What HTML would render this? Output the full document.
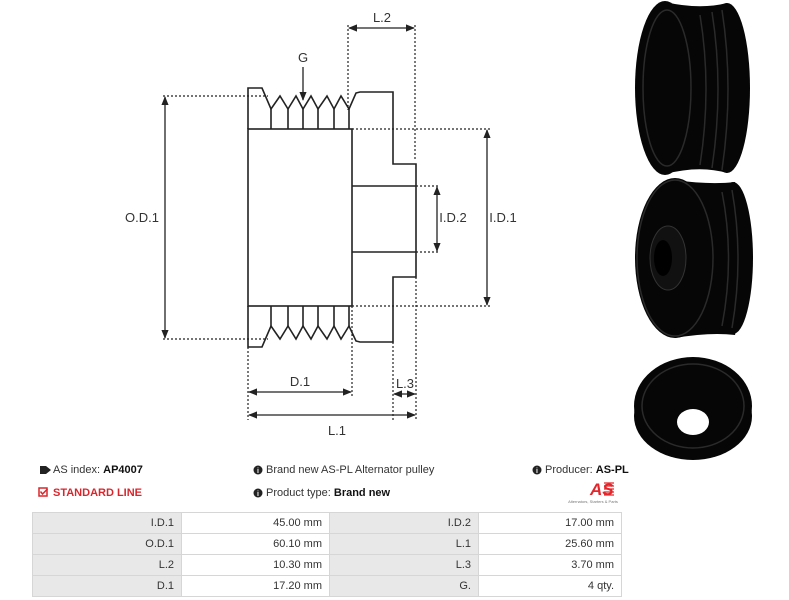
<!DOCTYPE html>
<html><head><meta charset="utf-8"><style>
body{margin:0;background:#fff;width:789px;height:600px;overflow:hidden;position:relative;font-family:"Liberation Sans",sans-serif;}
svg{position:absolute;left:0;top:0}
.t{position:absolute;font-size:11px;color:#333;white-space:nowrap}
table{position:absolute;left:32px;top:512px;border-collapse:collapse;font-size:11px;color:#333;table-layout:fixed;width:589px}
td{border:1px solid #d6d6d6;height:20px;padding:0 7px;text-align:right}
td.g{background:#e8e8e8}
td.w{background:#fff}
</style></head><body>
<svg width="789" height="600" viewBox="0 0 789 600">
<defs><marker id="a" viewBox="0 0 10 10" refX="9" refY="5" markerWidth="7" markerHeight="7" orient="auto-start-reverse"><path d="M0,1 L10,5 L0,9z" fill="#222"/></marker></defs>
<g fill="none" stroke="#222" stroke-width="1.6">
<rect x="248" y="129" width="104" height="177"/>
<path d="M248,129 V88 H262 L271,109 L280,96 L288,109 L296,96 L303,109 L311,96 L318,109 L327,96 L334,109 L341,96 L349,109 L356,93 L360,92 H393 V164 H416 V277 H393 V342 H360 L356,341 L349,326 L341,339 L334,326 L327,339 L318,326 L311,339 L303,326 L296,339 L288,326 L280,339 L271,326 L262,347 H248 V306"/>
<path d="M271,109V129M288,109V129M303,109V129M318,109V129M334,109V129M349,109V129"/>
<path d="M271,326V306M288,326V306M303,326V306M318,326V306M334,326V306M349,326V306"/>
<path d="M352,186H416M352,252H416"/>
</g>
<g fill="none" stroke="#222" stroke-width="1.2" stroke-dasharray="2,2">
<path d="M163,96H268M163,339H268"/>
<path d="M348,25V110M415,25V160"/>
<path d="M352,129H490M352,306H490"/>
<path d="M416,186H438M416,252H438"/>
<path d="M248,347V420M352,306V396M393,342V420M416,277V420"/>
</g>
<g stroke="#222" stroke-width="1.3" marker-start="url(#a)" marker-end="url(#a)">
<line x1="165" y1="97" x2="165" y2="338"/>
<line x1="349" y1="28" x2="414" y2="28"/>
<line x1="487" y1="130" x2="487" y2="305"/>
<line x1="437" y1="187" x2="437" y2="251"/>
<line x1="249" y1="392" x2="351" y2="392"/>
<line x1="394" y1="394" x2="415" y2="394"/>
<line x1="249" y1="415" x2="415" y2="415"/>
</g>
<line x1="303" y1="67" x2="303" y2="100" stroke="#222" stroke-width="1.3" marker-end="url(#a)"/>
<g font-family="Liberation Sans,sans-serif" font-size="13" fill="#333" text-anchor="middle">
<text x="142" y="222">O.D.1</text><text x="382" y="22">L.2</text><text x="303" y="62">G</text>
<text x="453" y="222">I.D.2</text><text x="503" y="222">I.D.1</text>
<text x="300" y="386">D.1</text><text x="405" y="388">L.3</text><text x="337" y="435">L.1</text>
</g>
<g fill="#060606">
<path d="M665,2 Q700,10 727,3 L735,10 L735,166 L727,173 Q700,165 665,174z"/>
<ellipse cx="727" cy="88" rx="23" ry="85"/>
<ellipse cx="665" cy="88" rx="30" ry="87"/>
<path d="M675,180 Q710,185 735,182 L752,258 L735,335 Q710,332 675,338z"/>
<ellipse cx="733" cy="258" rx="20" ry="76"/>
<ellipse cx="675" cy="258" rx="40" ry="80"/>
<ellipse cx="693" cy="416" rx="59" ry="44"/>
<ellipse cx="693" cy="406" rx="59" ry="49"/>
</g>
<g fill="none" stroke="#2a2a2a" stroke-width="1.5">
<ellipse cx="667" cy="88" rx="24" ry="78"/>
<path d="M700,15 Q712,88 700,165M712,12 Q724,88 712,168M722,10 Q734,88 722,170"/>
<ellipse cx="675" cy="258" rx="38" ry="78"/>
<path d="M722,192 Q735,258 722,326M732,190 Q744,258 732,328"/>
<ellipse cx="693" cy="406" rx="51" ry="42"/>
</g>
<ellipse cx="668" cy="258" rx="18" ry="32" fill="#111" stroke="#333"/>
<ellipse cx="663" cy="258" rx="9" ry="18" fill="#000"/>
<ellipse cx="693" cy="422" rx="16" ry="13" fill="#fff"/>
<path d="M40,466 l6,0 l5,4 l-5,4 l-6,0z" fill="#222"/>
<rect x="39" y="488" width="8" height="8" fill="none" stroke="#d9262c" stroke-width="1.5"/>
<path d="M40.5,491.5 l2,2.5 l5,-5" fill="none" stroke="#d9262c" stroke-width="1.5"/>
<g fill="#222"><circle cx="258" cy="470" r="4.5"/><circle cx="258" cy="493" r="4.5"/><circle cx="537" cy="470" r="4.5"/></g>
<g fill="#fff" font-size="7" font-weight="bold" font-family="Liberation Sans" text-anchor="middle"><text x="258" y="473">i</text><text x="258" y="496">i</text><text x="537" y="473">i</text></g>
<text x="590" y="495" font-family="Liberation Sans" font-size="17" font-weight="bold" font-style="italic" fill="#e3262b">AS</text>
<g stroke="#e3262b" stroke-width="1.2"><path d="M604,483h10M604,486h10M604,489h10M604,492h10M604,495h10"/></g>
<text x="593" y="503" font-family="Liberation Sans" font-size="4" fill="#777" text-anchor="middle">Alternators, Starters &amp; Parts</text>
</svg>
<div class="t" style="left:53px;top:464px">AS index: <b style="color:#111">AP4007</b></div>
<div class="t" style="left:53px;top:487px;color:#d9262c;font-weight:bold">STANDARD LINE</div>
<div class="t" style="left:266px;top:464px">Brand new AS-PL Alternator pulley</div>
<div class="t" style="left:266px;top:487px">Product type: <b style="color:#111">Brand new</b></div>
<div class="t" style="left:545px;top:464px">Producer: <b style="color:#111">AS-PL</b></div>
<table>
<colgroup><col style="width:149px"><col style="width:148px"><col style="width:149px"><col style="width:143px"></colgroup>
<tr><td class="g">I.D.1</td><td class="w">45.00 mm</td><td class="g">I.D.2</td><td class="w">17.00 mm</td></tr>
<tr><td class="g">O.D.1</td><td class="w">60.10 mm</td><td class="g">L.1</td><td class="w">25.60 mm</td></tr>
<tr><td class="g">L.2</td><td class="w">10.30 mm</td><td class="g">L.3</td><td class="w">3.70 mm</td></tr>
<tr><td class="g">D.1</td><td class="w">17.20 mm</td><td class="g">G.</td><td class="w">4 qty.</td></tr>
</table>
</body></html>
